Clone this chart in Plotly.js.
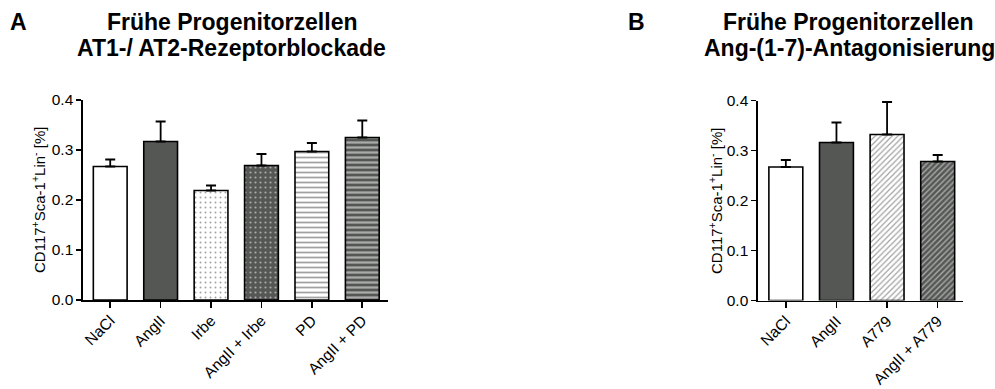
<!DOCTYPE html>
<html>
<head>
<meta charset="utf-8">
<script src="https://cdn.plot.ly/plotly-3.0.1.min.js"></script>
<style>html,body{margin:0;padding:0;background:#fff;}#chart{width:995px;height:389px;}</style>
</head>
<body>
<div id="chart"></div>
<script>
// Panel A data
const catsA = ["NaCl", "AngII", "Irbe", "AngII + Irbe", "PD", "AngII + PD"];
const meanA = [0.267, 0.317, 0.219, 0.269, 0.297, 0.325];
const errA  = [0.014, 0.040, 0.010, 0.023, 0.017, 0.034];
// Panel B data
const catsB = ["NaCl", "AngII", "A779", "AngII + A779"];
const meanB = [0.267, 0.316, 0.332, 0.278];
const errB  = [0.014, 0.040, 0.065, 0.013];
const yTicks = [0.0, 0.1, 0.2, 0.3, 0.4];
const yTitle = "CD117<sup>+</sup>Sca-1<sup>+</sup>Lin<sup>-</sup> [%]";
const titleA = ["Frühe Progenitorzellen", "AT1-/ AT2-Rezeptorblockade"];
const titleB = ["Frühe Progenitorzellen", "Ang-(1-7)-Antagonisierung"];

const DARK = "rgb(85,87,85)";
const W = 995, H = 389;
const px = v => v / W;
const py = v => 1 - v / H;
const FONT = "Liberation Sans, Arial, sans-serif";

const traceA = {
  type: "bar", x: catsA, y: meanA, xaxis: "x", yaxis: "y",
  marker: {
    color: ["white", DARK, "white", DARK, "white", DARK],
    line: {color: "black", width: 1.6},
    pattern: {
      shape: ["", "", ".", ".", "-", "-"],
      fgcolor: ["white", DARK, "#8a8a8a", "#2e2e2e", "#9a9a9a", "#383838"],
      size: [6, 6, 5, 5, 5, 5],
      solidity: [0.2, 0.2, 0.12, 0.15, 0.35, 0.45],
      fillmode: "overlay"
    }
  },
  error_y: {type: "data", symmetric: false, array: errA, arrayminus: errA.map(() => 0),
            color: "black", thickness: 1.8, width: 5},
  hoverinfo: "skip", showlegend: false
};
const traceB = {
  type: "bar", x: catsB, y: meanB, xaxis: "x2", yaxis: "y2",
  marker: {
    color: ["white", DARK, "white", DARK],
    line: {color: "black", width: 1.6},
    pattern: {
      shape: ["", "", "/", "/"],
      fgcolor: ["white", DARK, "#8a8a8a", "#2e2e2e"],
      size: [6, 6, 4, 4],
      solidity: [0.2, 0.2, 0.3, 0.35],
      fillmode: "overlay"
    }
  },
  error_y: {type: "data", symmetric: false, array: errB, arrayminus: errB.map(() => 0),
            color: "black", thickness: 1.8, width: 5},
  hoverinfo: "skip", showlegend: false
};

const xCommon = {
  showline: true, linecolor: "black", linewidth: 1.6,
  ticks: "outside", ticklen: 6, tickwidth: 1.6, tickcolor: "black",
  tickangle: -45, tickfont: {family: FONT, size: 15.5, color: "black"},
  ticklabelstandoff: -2,
  showgrid: false, zeroline: false, fixedrange: true
};
const yCommon = {
  range: [0, 0.4], tickvals: yTicks, tickformat: ".1f",
  showline: true, linecolor: "black", linewidth: 1.6,
  ticks: "outside", ticklen: 5, tickwidth: 1.6, tickcolor: "black",
  tickfont: {family: FONT, size: 15.5, color: "black"},
  showgrid: false, zeroline: false, fixedrange: true
};

function txt(text, x, y, size, extra) {
  return Object.assign({text: text, xref: "paper", yref: "paper", x: px(x), y: py(y),
    xanchor: "center", yanchor: "middle", showarrow: false,
    font: {family: FONT, size: size, color: "black"}}, extra || {});
}

const layout = {
  width: W, height: H,
  margin: {l: 0, r: 0, t: 0, b: 0},
  paper_bgcolor: "white", plot_bgcolor: "white",
  bargap: 0.33,
  font: {family: FONT, color: "black"},
  xaxis: Object.assign({}, xCommon, {domain: [px(83), px(388)], range: [-0.54, 5.51], anchor: "y"}),
  yaxis: Object.assign({}, yCommon, {domain: [py(300), py(100)], anchor: "x"}),
  xaxis2: Object.assign({}, xCommon, {domain: [px(758), px(963)], range: [-0.55, 3.5], anchor: "y2"}),
  yaxis2: Object.assign({}, yCommon, {domain: [py(300.5), py(100.5)], anchor: "x2"}),
  annotations: [
    txt("<b>" + titleA[0] + "</b>", 232, 21.5, 23),
    txt("<b>" + titleA[1] + "</b>", 231, 48, 23),
    txt("<b>" + titleB[0] + "</b>", 848, 21.5, 23),
    txt("<b>" + titleB[1] + "</b>", 849, 48, 23),
    txt("<b>A</b>", 18, 22.5, 23),
    txt("<b>B</b>", 636, 22.5, 23),
    txt(yTitle, 38, 200, 15, {textangle: -90}),
    txt(yTitle, 715, 201, 15, {textangle: -90})
  ]
};

Plotly.newPlot("chart", [traceA, traceB], layout, {staticPlot: true, displayModeBar: false});
</script>
</body>
</html>
